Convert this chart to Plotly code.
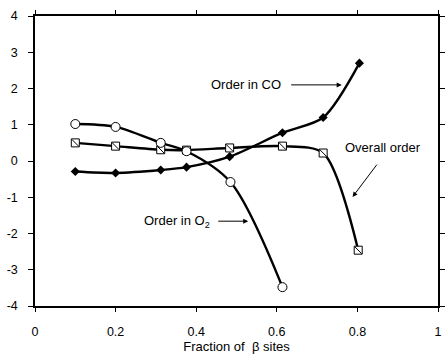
import plotly.graph_objects as go

x_o2 = [0.1, 0.2, 0.312, 0.376, 0.485, 0.614]
y_o2 = [1.02, 0.94, 0.50, 0.27, -0.58, -3.48]

x_all = [0.1, 0.2, 0.312, 0.376, 0.483, 0.614, 0.715, 0.802]
y_all = [0.50, 0.41, 0.31, 0.30, 0.36, 0.41, 0.22, -2.46]

x_co = [0.1, 0.2, 0.312, 0.376, 0.483, 0.614, 0.715, 0.805]
y_co = [-0.29, -0.33, -0.25, -0.17, 0.12, 0.78, 1.20, 2.70]

x_ticks = [0, 0.2, 0.4, 0.6, 0.8, 1]
x_tick_labels = ["0", "0.2", "0.4", "0.6", "0.8", "1"]
y_ticks = [-4, -3, -2, -1, 0, 1, 2, 3, 4]
y_tick_labels = ["-4", "-3", "-2", "-1", "0", "1", "2", "3", "4"]

fig = go.Figure()
lw = 2.4
fig.add_trace(go.Scatter(x=x_co, y=y_co, mode="lines+markers",
                         line=dict(color="black", width=lw, shape="spline", smoothing=0.8),
                         marker=dict(symbol="diamond", size=7, color="black")))
fig.add_trace(go.Scatter(x=x_all, y=y_all, mode="lines",
                         line=dict(color="black", width=lw, shape="spline", smoothing=0.8)))
fig.add_trace(go.Scatter(x=x_all, y=y_all, mode="markers",
                         marker=dict(symbol="square", size=8, color="white",
                                     line=dict(color="black", width=1))))
fig.add_trace(go.Scatter(x=x_all, y=y_all, mode="markers",
                         marker=dict(symbol="line-nw", size=7, color="black",
                                     line=dict(color="black", width=1))))
fig.add_trace(go.Scatter(x=x_o2, y=y_o2, mode="lines",
                         line=dict(color="black", width=lw, shape="spline", smoothing=0.9)))
fig.add_trace(go.Scatter(x=x_o2, y=y_o2, mode="markers",
                         marker=dict(symbol="circle", size=9, color="white",
                                     line=dict(color="black", width=1))))

font = dict(family="Liberation Sans, Arial", size=13, color="black")
tfont = dict(family="Liberation Sans, Arial", size=12.5, color="black")

fig.add_annotation(x=0.524, y=2.1, text="Order in CO", showarrow=False, font=font)
fig.add_annotation(x=0.761, y=2.1, ax=0.632, ay=2.1, axref="x", ayref="y", xref="x", yref="y",
                   text="", showarrow=True, arrowhead=2, arrowsize=1, arrowwidth=1, arrowcolor="black")
fig.add_annotation(x=0.863, y=0.36, text="Overall order", showarrow=False, font=font)
fig.add_annotation(x=0.788, y=-0.99, ax=0.851, ay=-0.06, axref="x", ayref="y", xref="x", yref="y",
                   text="", showarrow=True, arrowhead=2, arrowsize=1, arrowwidth=1, arrowcolor="black")
fig.add_annotation(x=0.352, y=-1.68, text="Order in O<sub>2</sub>", showarrow=False, font=font)
fig.add_annotation(x=0.529, y=-1.66, ax=0.451, ay=-1.66, axref="x", ayref="y", xref="x", yref="y",
                   text="", showarrow=True, arrowhead=2, arrowsize=1, arrowwidth=1, arrowcolor="black")

fig.update_layout(
    width=448, height=357,
    margin=dict(l=35, r=3, t=16, b=51),
    paper_bgcolor="white", plot_bgcolor="white",
    showlegend=False,
    font=tfont,
    xaxis=dict(range=[0, 1], tickvals=x_ticks, ticktext=x_tick_labels,
               showgrid=False, zeroline=False, showline=True, linecolor="black", linewidth=1.5,
               mirror="ticks", ticks="outside", ticklen=4, tickcolor="black",
               ticklabelstandoff=9, tickfont=tfont,
               title=dict(text="Fraction of  β sites", font=font, standoff=4)),
    yaxis=dict(range=[-4, 4], tickvals=y_ticks, ticktext=y_tick_labels,
               showgrid=False, zeroline=False, showline=True, linecolor="black", linewidth=1.5,
               mirror="ticks", ticks="outside", ticklen=5, tickcolor="black",
               ticklabelstandoff=8, tickfont=tfont),
)

fig.write_html("out.html")
